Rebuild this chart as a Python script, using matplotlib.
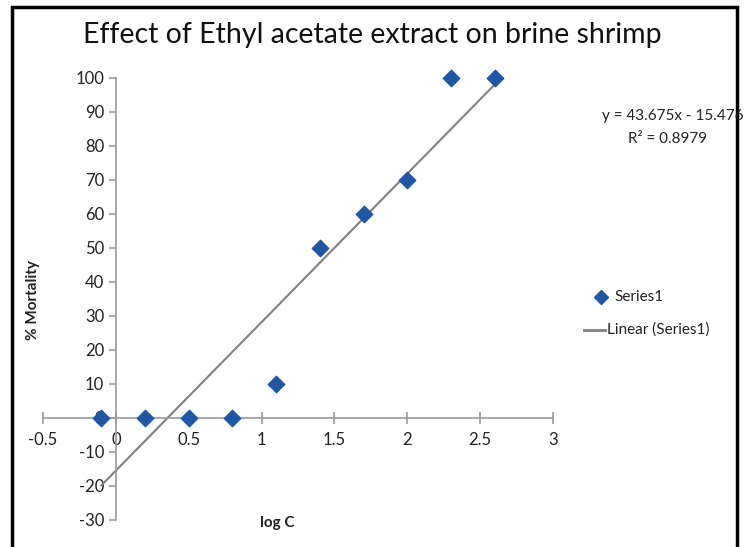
import numpy as np
import matplotlib.pyplot as plt
from matplotlib.lines import Line2D
from matplotlib.patches import Rectangle

plt.rcParams['font.family'] = ['Lato', 'DejaVu Sans']
plt.rcParams['axes.unicode_minus'] = False

log_c = [-0.1, 0.2, 0.5, 0.8, 1.1, 1.4, 1.7, 2.0, 2.3, 2.6]
mortality = [0, 0, 0, 0, 10, 50, 60, 70, 100, 100]
slope, intercept, r2 = 43.675, -15.476, 0.8979

W, H = 751, 547
fig = plt.figure(figsize=(W / 100, H / 100), dpi=100)
# axes box in pixel coords: x 43..553, y 78..520
ax = fig.add_axes([43 / W, 1 - 520 / H, (553 - 43) / W, (520 - 78) / H])

ax.scatter(log_c, mortality, marker='D', s=70, color='#1f56a5', zorder=3, clip_on=False)
xs = np.array([min(log_c), max(log_c)])
ax.plot(xs, slope * xs + intercept, color='#808080', lw=1.5, zorder=2)

ax.set_xlim(-0.5, 3)
ax.set_ylim(-30, 100)
ax.set_xticks(np.arange(-0.5, 3.01, 0.5))
ax.set_xticklabels(['-0.5', '0', '0.5', '1', '1.5', '2', '2.5', '3'])
ax.set_yticks(np.arange(-30, 101, 10))

for s in ['top', 'right']:
    ax.spines[s].set_visible(False)
ax.spines['left'].set_position(('data', 0))
ax.spines['bottom'].set_position(('data', 0))
for s in ['left', 'bottom']:
    ax.spines[s].set_color('#9a9a9a')
    ax.spines[s].set_linewidth(1.2)
ax.tick_params(axis='both', colors='#9a9a9a', labelcolor='#222222', labelsize=12, length=5, width=1.2)
ax.tick_params(axis='x', direction='inout', length=8, pad=6)
ax.tick_params(axis='y', direction='out')

fig.text(372 / W, 1 - 35 / H, 'Effect of Ethyl acetate extract on brine shrimp',
         ha='center', va='center', fontsize=20.5, color='#111111')
fig.text(33 / W, 1 - 300 / H, '% Mortality', rotation=90, ha='center', va='center',
         fontsize=11, fontweight='bold', color='#222222')
fig.text(277 / W, 1 - 523 / H, 'log C', ha='center', va='center',
         fontsize=11, fontweight='bold', color='#222222')

fig.text(673 / W, 1 - 116 / H, f'y = {slope}x - {abs(intercept)}', ha='center', va='center',
         fontsize=11, color='#222222')
fig.text(668 / W, 1 - 139 / H, f'R² = {r2}', ha='center', va='center',
         fontsize=11, color='#222222')

# legend drawn by hand to match the Excel layout
fig.add_artist(Line2D([601 / W], [1 - 297 / H], marker='D', markersize=7,
                      color='#1f56a5', linestyle='none'))
fig.text(614 / W, 1 - 297 / H, 'Series1', va='center', fontsize=11, color='#222222')
fig.add_artist(Line2D([584 / W, 605 / W], [1 - 330 / H, 1 - 330 / H], color='#808080', lw=2))
fig.text(607 / W, 1 - 330 / H, 'Linear (Series1)', va='center', fontsize=11, color='#222222')

fig.add_artist(Rectangle((12 / W, -0.05), (737 - 12) / W, 1.05 - 7 / H,
                         transform=fig.transFigure, fill=False, ec='black', lw=2.5, clip_on=False))

fig.savefig('out.png', dpi=100)
